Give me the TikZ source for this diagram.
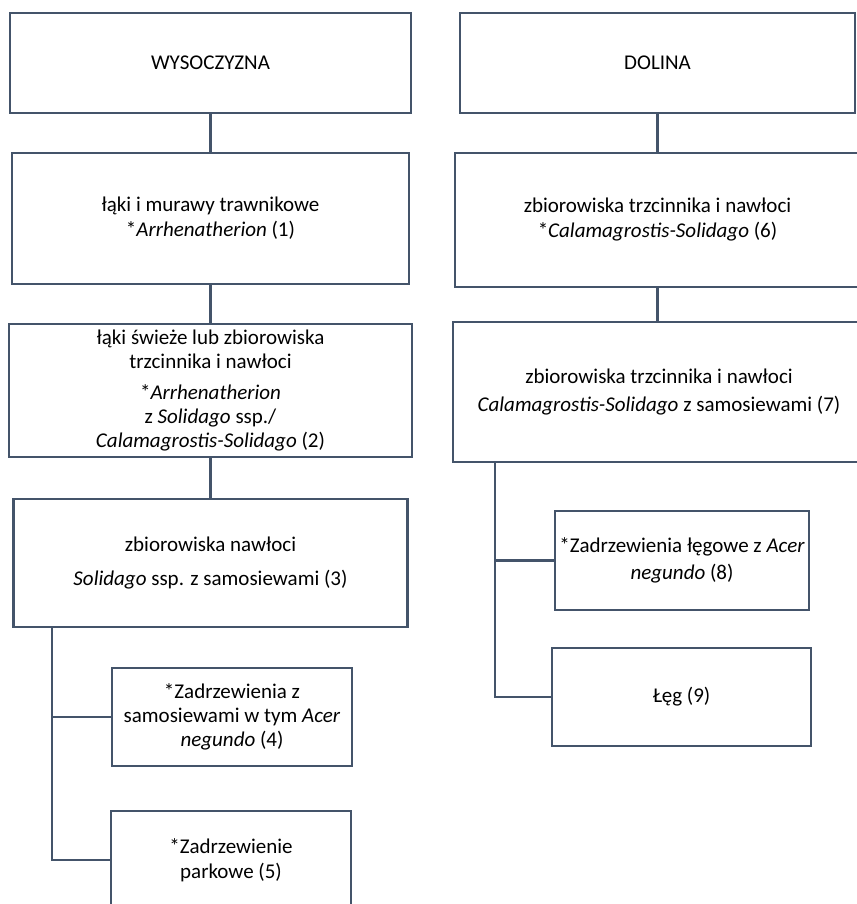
\documentclass[tikz,border=0pt]{standalone}
\usepackage{fontspec}
\setmainfont{Carlito}
\definecolor{lineblue}{HTML}{44546A}
\begin{document}
\begin{tikzpicture}[x=1pt,y=-1pt,
  box/.style={draw=lineblue, line width=2.7pt, rectangle, inner sep=0pt, align=center,
    font=\fontsize{21}{25}\selectfont, text=black},
  link/.style={draw=lineblue, line width=2.5pt}]
\useasboundingbox (0,0) rectangle (856,904);
\fill[white] (0,0) rectangle (856,904);
% left column
\node[box, minimum width=401pt, minimum height=100pt] (wys) at (210.5,63) {WYSOCZYZNA};
\node[box, minimum width=397pt, minimum height=131pt] (b1) at (210.5,218.5)
  {łąki i murawy trawnikowe\\ *\textit{Arrhenatherion} (1)};
\node[box, minimum width=403pt, minimum height=133pt] (b2) at (210.5,390.5)
  {\rule{0pt}{6pt}łąki świeże lub zbiorowiska\\[-1pt] trzcinnika i nawłoci\\[6pt] *\textit{Arrhenatherion}\\[-1pt] z \textit{Solidago} ssp./\\[-1pt] \textit{Calamagrostis-Solidago} (2)};
\node[box, minimum width=394pt, minimum height=128pt] (b3) at (210.5,563)
  {\rule{0pt}{6pt}zbiorowiska nawłoci\\[9pt] \textit{Solidago} ssp. z samosiewami (3)};
\node[box, minimum width=240pt, minimum height=98pt] (b4) at (232,717)
  {*Zadrzewienia z\\[-1pt] samosiewami w tym \textit{Acer}\\[-1pt] \textit{negundo} (4)};
\node[box, minimum width=240pt, minimum height=98pt] (b5) at (231,860)
  {*Zadrzewienie\\ parkowe (5)};
% right column
\node[box, minimum width=395pt, minimum height=100pt] (dol) at (657.5,63) {DOLINA};
\node[box, minimum width=405pt, minimum height=134pt] (b6) at (657.5,220)
  {zbiorowiska trzcinnika i nawłoci\\ *\textit{Calamagrostis-Solidago} (6)};
\node[box, minimum width=412pt, minimum height=140pt] (b7) at (659,392)
  {zbiorowiska trzcinnika i nawłoci\\[3pt] \textit{Calamagrostis-Solidago} z samosiewami (7)};
\node[box, minimum width=254pt, minimum height=99pt] (b8) at (682,560.5)
  {*Zadrzewienia łęgowe z \textit{Acer}\\[2pt] \textit{negundo} (8)};
\node[box, minimum width=259pt, minimum height=98pt] (b9) at (681.5,697) {Łęg (9)};
% connectors
\draw[link] (wys.south -| b1.north) -- (b1.north);
\draw[link] (b1.south) -- (b2.north);
\draw[link] (b2.south) -- (b3.north);
\coordinate (lt) at (b3.south -| 52,0);
\draw[link] (lt) |- (b4.west);
\draw[link] (lt) |- (b5.west);
\draw[link] (dol.south) -- (dol.south |- b6.north);
\draw[link] (b6.south -| dol.south) -- (b7.north -| dol.south);
\coordinate (rt) at (b7.south -| 495,0);
\draw[link] (rt) |- (b8.west);
\draw[link] (rt) |- (b9.west);
\end{tikzpicture}
\end{document}
